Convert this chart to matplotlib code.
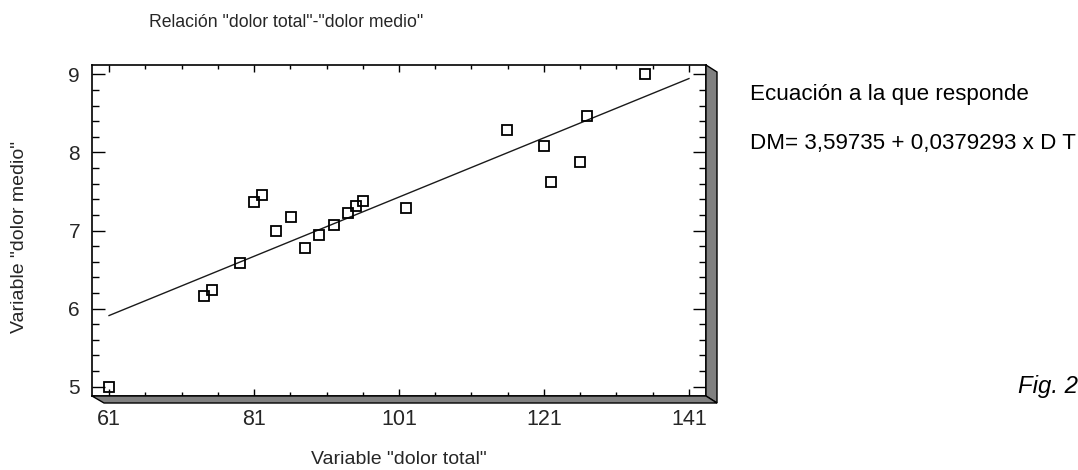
import matplotlib
matplotlib.use("Agg")
import matplotlib.pyplot as plt
import numpy as np
from matplotlib.patches import Polygon
from matplotlib.transforms import IdentityTransform
from matplotlib.ticker import MultipleLocator, FixedLocator

# Observed pairs: total pain score vs. mean pain score
dolor_total = [61.0, 74.1, 75.2, 79.0, 81.0, 82.1, 84.0, 86.1, 88.0, 89.9, 92.0,
               93.9, 95.0, 96.0, 102.0, 115.9, 121.0, 122.0, 126.0, 126.9, 134.9]
dolor_medio = [5.00, 6.16, 6.24, 6.58, 7.36, 7.46, 6.99, 7.17, 6.78, 6.94, 7.07,
               7.23, 7.31, 7.38, 7.29, 8.29, 8.08, 7.62, 7.88, 8.47, 9.00]

# Fitted regression coefficients
intercepto = 3.59735
pendiente = 0.0379293

x_ticks = [61, 81, 101, 121, 141]
y_ticks = [5, 6, 7, 8, 9]

titulo = 'Relación "dolor total"-"dolor medio"'
etiqueta_x = 'Variable "dolor total"'
etiqueta_y = 'Variable "dolor medio"'
texto_ecuacion = 'Ecuación a la que responde'
texto_formula = 'DM= 3,59735 + 0,0379293 x D T'
texto_figura = 'Fig. 2'

W, H, DPI = 1078, 470, 100
fig = plt.figure(figsize=(W / DPI, H / DPI), dpi=DPI)
fig.patch.set_facecolor("white")

ax_l, ax_r, ax_t, ax_b = 92, 706, 65, 396
ax = fig.add_axes([ax_l / W, 1 - ax_b / H, (ax_r - ax_l) / W, (ax_b - ax_t) / H])

font = "Liberation Sans"
gray_txt = "#262626"

# regression line over the tick range
xl = np.array([x_ticks[0], x_ticks[-1]], dtype=float)
ax.plot(xl, intercepto + pendiente * xl, color="#1a1a1a", lw=1.0, zorder=2)

ax.plot(dolor_total, dolor_medio, linestyle="none", marker="s", ms=6.9,
        mfc="none", mec="black", mew=1.3, zorder=3)

ax.set_xlim(58.65, 143.35)
ax.set_ylim(4.881, 9.119)

ax.xaxis.set_major_locator(FixedLocator(x_ticks))
ax.xaxis.set_minor_locator(FixedLocator(np.arange(61, 143, 5)))
ax.yaxis.set_major_locator(FixedLocator(y_ticks))
ax.yaxis.set_minor_locator(MultipleLocator(0.2))

ax.tick_params(axis="x", which="both", direction="in", top=True, bottom=True,
               width=1.0, color="black")
ax.tick_params(axis="y", which="both", direction="in", left=True, right=True,
               width=1.0, color="black")
ax.tick_params(axis="x", which="major", length=5.0, pad=9.5)
ax.tick_params(axis="x", which="minor", length=2.6)
ax.tick_params(axis="y", which="major", length=9.4, pad=8.6)
ax.tick_params(axis="y", which="minor", length=5.0)

for lab in ax.get_xticklabels():
    lab.set_fontfamily(font)
    lab.set_fontsize(15.5)
    lab.set_color(gray_txt)
for lab in ax.get_yticklabels():
    lab.set_fontfamily(font)
    lab.set_fontsize(15)
    lab.set_color(gray_txt)

for sp in ax.spines.values():
    sp.set_linewidth(1.2)
    sp.set_color("black")

# 3D-style shaded edge along the bottom and right of the frame
x0, x1 = ax_l, ax_r
y0, y1 = H - ax_b, H - ax_t
dx, dy = 11, 7
right_strip = Polygon([(x1, y1), (x1 + dx, y1 - dy), (x1 + dx, y0 - dy), (x1, y0)],
                      closed=True, facecolor="#808080", edgecolor="black", lw=1.0,
                      transform=IdentityTransform(), zorder=5)
bottom_strip = Polygon([(x0, y0), (x0 + dx + 1, y0 - dy), (x1 + dx, y0 - dy), (x1, y0)],
                       closed=True, facecolor="#808080", edgecolor="black", lw=1.0,
                       transform=IdentityTransform(), zorder=5)
fig.patches.extend([right_strip, bottom_strip])

fig.text(286 / W, 1 - 27 / H, titulo, ha="center", va="baseline",
         fontsize=12.7, family=font, color=gray_txt)
fig.text((ax_l + ax_r) / 2 / W, 1 - 464 / H, etiqueta_x, ha="center", va="baseline",
         fontsize=14, family=font, color=gray_txt)
fig.text(20 / W, 1 - 237 / H, etiqueta_y, ha="center", va="center", rotation=90,
         fontsize=14, family=font, color=gray_txt)

fig.text(750 / W, 1 - 100 / H, texto_ecuacion, ha="left", va="baseline",
         fontsize=16.1, family=font, color="black")
fig.text(750 / W, 1 - 149 / H, texto_formula, ha="left", va="baseline",
         fontsize=16.1, family=font, color="black")
fig.text(1018 / W, 1 - 393 / H, texto_figura, ha="left", va="baseline",
         fontsize=17.3, family=font, style="italic", color="black")

fig.savefig("out.png", dpi=DPI, facecolor="white")
